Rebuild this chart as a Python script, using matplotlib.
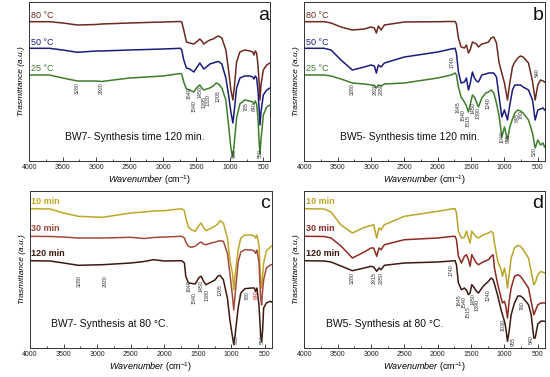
import matplotlib
matplotlib.use("Agg")
import matplotlib.pyplot as plt
from matplotlib.ticker import MultipleLocator

plt.rcParams['font.family'] = ['Liberation Sans', 'DejaVu Sans']
plt.rcParams['mathtext.fontset'] = 'custom'
plt.rcParams['mathtext.rm'] = 'Liberation Sans'
plt.rcParams['mathtext.it'] = 'Liberation Sans:italic'

# ---------------------------
# DATA (transmittance in a.u.)
# ---------------------------
wn_a = [4000, 3700, 3500, 3280, 3000, 2920, 2500, 2000, 1740, 1720,
        1690, 1650, 1600, 1540, 1500, 1450, 1420, 1390, 1350, 1300,
        1250, 1205, 1170, 1120, 1060, 1020, 985, 955, 930, 900,
        850, 780, 700, 660, 640, 620, 600, 580, 560, 550,
        535, 500, 450, 400]
a_80 = [139.3, 139.3, 138, 136, 136.5, 137, 138, 139, 139.5, 139,
        131, 119, 118, 117, 119, 122, 120, 117, 119, 121,
        122, 124, 125, 123, 111, 91, 71, 61, 76, 99,
        109, 111, 110, 109, 106, 110, 108, 96, 76, 61,
        76, 91, 96, 98]
a_50 = [112.7, 112.7, 111, 108.7, 110, 110, 111, 112, 112.7, 111,
        101, 93, 92, 89, 93, 98, 95, 92, 94, 97,
        98, 99, 99.5, 97, 83, 66, 49, 38, 53, 73,
        83, 85, 85, 84, 82, 85, 83, 71, 49, 36,
        49, 66, 71, 73]
a_25 = [86, 86, 83, 80, 80, 79.5, 83, 85, 87.5, 87,
        79, 72, 71, 69, 73, 76, 73, 71, 72, 73,
        75, 78, 77, 73, 61, 36, 13, 4, 21, 43,
        57, 61, 60, 59, 57, 60, 57, 43, 16, 7,
        21, 46, 54, 56]

wn_b = [4000, 3700, 3600, 3450, 3280, 3100, 3000, 2950, 2920, 2890,
        2850, 2800, 2500, 2000, 1800, 1740, 1720, 1690, 1650, 1600,
        1570, 1540, 1515, 1480, 1450, 1420, 1390, 1340, 1280, 1240,
        1200, 1160, 1120, 1080, 1040, 1000, 955, 920, 880, 845,
        800, 760, 720, 640, 580, 540, 500, 460, 420, 400]
b_80 = [139.3, 139.3, 138, 134, 131, 132, 134, 133, 128, 135,
        131, 136, 139, 139.3, 139.5, 139.5, 137, 123, 114, 113,
        116, 108, 111, 119, 118, 117, 114, 117, 118, 119,
        123, 124, 118, 98, 88, 78, 61, 78, 94, 99,
        103, 105, 104, 98, 80, 61, 76, 81, 80, 79]
b_50 = [112.7, 112.7, 111, 101, 91, 94, 96, 95, 88, 96,
        94, 98, 104, 109, 112, 112.7, 108, 89, 78, 79,
        83, 71, 77, 89, 83, 80, 79, 86, 87, 88,
        88, 88, 84, 64, 44, 51, 41, 56, 71, 76,
        76, 76, 74, 71, 61, 41, 51, 52, 53, 51]
b_25 = [86, 86, 85, 82, 78, 77, 76, 75.5, 73, 76,
        75, 77, 78, 83, 86, 88, 86, 74, 64, 59,
        55, 49, 56, 66, 64, 59, 54, 63, 68, 69,
        71, 68, 58, 45, 24, 34, 21, 34, 42, 48,
        51, 50, 48, 41, 28, 13, 21, 16, 18, 14]

wn_c = [4000, 3700, 3500, 3280, 2920, 2500, 2300, 2160, 2000, 1740,
        1700, 1680, 1640, 1600, 1540, 1480, 1450, 1420, 1380, 1300,
        1240, 1205, 1170, 1120, 1060, 1020, 985, 965, 945, 900,
        860, 800, 700, 660, 640, 620, 590, 565, 550, 535,
        520, 480, 420, 400]
c_10 = [139.3, 139, 135, 131.7, 130.7, 135, 136, 137, 137.3, 139.3,
        137.3, 130, 121, 118.3, 116.7, 123, 125, 121, 117.3, 120,
        122, 124, 127.3, 125, 110, 87, 75, 58, 73, 98,
        110, 113, 113, 112, 110, 113, 103, 68, 60, 73,
        85, 97, 101, 102]
c_30 = [111.7, 111.5, 111, 110, 110, 110.7, 109.5, 110.5, 111, 111.7,
        110, 106, 101.7, 100.7, 101.7, 105, 106, 104, 103.3, 105,
        106, 106.7, 107.3, 106.7, 95, 73, 52, 38, 53, 86,
        96, 98.3, 98, 97, 94.7, 98, 86, 50, 43, 58,
        68, 80, 83, 83.3]
c_120 = [87.3, 87, 85, 82.7, 83.3, 85, 86.5, 88.3, 87, 87.3,
         85, 71.7, 65, 64.7, 64, 70.7, 71.7, 67.3, 63.3, 66,
         68.3, 71.7, 72.7, 68.3, 50, 26.7, 11.7, 3.3, 13, 40,
         55, 59.3, 60, 60, 56.7, 60, 43.3, 13, 6.7, 18,
         40, 45, 46.7, 46]

wn_d = [4000, 3700, 3600, 3450, 3280, 3100, 3000, 2960, 2915, 2880,
        2850, 2800, 2500, 2000, 1800, 1740, 1720, 1690, 1645, 1600,
        1570, 1540, 1515, 1490, 1450, 1420, 1390, 1320, 1240, 1200,
        1170, 1150, 1100, 1050, 1030, 1000, 980, 955, 930, 900,
        850, 800, 760, 720, 640, 600, 560, 540, 500, 450, 400]
d_10 = [139.3, 139, 136, 123, 115, 120.7, 122.5, 123.3, 110, 120,
        118.3, 123.3, 131.7, 136.7, 139, 139.3, 135, 116.7, 110, 110.7,
        117, 110, 105, 116.7, 113.3, 111, 110, 113, 115, 116.7,
        115, 105, 86.7, 78.3, 71.7, 80, 73.3, 60, 73.3, 90,
        100, 102.7, 101.7, 98.3, 90, 76.7, 63.3, 65, 73.3, 76.7, 75]
d_30 = [111.7, 111.5, 110, 102, 90, 96, 100, 100, 91.7, 100,
        98.3, 103.3, 108.3, 110, 111.5, 111.7, 108.3, 91.7, 85, 91.7,
        93.3, 88.3, 81.7, 93.3, 88.3, 85, 83.3, 86, 88.3, 91.7,
        93.3, 80, 63.3, 50, 45, 46.7, 42, 30, 46.7, 60,
        71.7, 73.3, 71.7, 68, 60, 46.7, 33.3, 36.7, 43.3, 45, 45]
d_120 = [87.3, 87, 86, 82, 77.3, 80, 81.7, 81, 76.7, 80,
         78.3, 82.7, 85, 86, 87, 87.3, 83.3, 65, 58.3, 60,
         58, 53.3, 55, 63.3, 60, 56.7, 55, 61.7, 66.7, 70,
         68.3, 64, 52, 38, 33.3, 26.7, 20, 6.7, 16.7, 33.3,
         45, 52, 52, 50, 43.3, 33.3, 10, 10, 24, 27, 26.7]

temp_labels = ["80 °C", "50 °C", "25 °C"]
time_labels = ["10 min", "30 min", "120 min"]
titles = ["BW7- Synthesis time 120 min.", "BW5- Synthesis time 120 min.",
          "BW7- Synthesis at 80 °C.", "BW5- Synthesis at 80 °C."]
letters = ["a", "b", "c", "d"]

peaks_a = ["3280", "2920", "1640", "1540", "1450", "1395", "1320", "1205", "785", "640", "955", "550"]
peaks_b = ["3280", "2920", "2850", "1740", "1645", "1540", "1515", "1450", "1390", "1240",
           "1040", "955", "845", "780", "540", "520"]
peaks_c = ["3280", "2920", "1640", "1540", "1450", "1380", "1205", "780", "640", "965", "550"]
peaks_d = ["3280", "2915", "2850", "1740", "1645", "1540", "1515", "1450", "1390", "1240",
           "1030", "955", "780", "540"]

# ---------------------------
# LAYOUT
# ---------------------------
# label anchor (x in cm-1, y in a.u.) for each peak label
pos_a = [(3280, 73), (2920, 73), (1605, 68), (1530, 55), (1450, 69), (1385, 59), (1320, 61),
         (1170, 65), (750, 54), (630, 54), (940, 8), (552, 8)]
pos_b = [(3280, 72), (2940, 72), (2850, 72), (1790, 99), (1690, 54), (1616, 46), (1545, 40),
         (1465, 53), (1390, 48), (1240, 58), (1040, 24), (940, 23), (815, 43), (750, 46),
         (515, 88), (550, 9)]
pos_c = [(3265, 67), (2882, 67), (1625, 62), (1560, 50), (1450, 62), (1358, 53), (1168, 58),
         (762, 52), (632, 53), (935, 8), (547, 8)]
pos_d = [(3280, 70), (2955, 70), (2840, 70), (1800, 78), (1675, 48), (1605, 46), (1545, 36),
         (1475, 49), (1405, 43), (1240, 53), (1015, 23), (875, 7), (730, 42), (600, 8)]

W, H = 550, 377
panel_px = [(29.3, 2, 270, 161), (304.3, 2, 544.5, 161),
            (30, 191, 271.7, 348), (304.3, 191, 544.5, 348)]
label_y = [[0.918, 0.748, 0.583], [0.918, 0.748, 0.583],
           [0.93, 0.758, 0.605], [0.93, 0.758, 0.605]]
title_x = [0.44, 0.44, 0.33, 0.335]

temp_colors = ['#6b2a1f', '#1b1b7e', '#3e7d2b']
time_colors_c = ['#c0a826', '#a24a3c', '#3d1a10']
time_colors_d = ['#b8a52a', '#8e2a22', '#3a1a12']

fig = plt.figure(figsize=(W / 100, H / 100), dpi=100)

panels = [
    (wn_a, [a_80, a_50, a_25], temp_labels, temp_colors, peaks_a, pos_a),
    (wn_b, [b_80, b_50, b_25], temp_labels, temp_colors, peaks_b, pos_b),
    (wn_c, [c_10, c_30, c_120], time_labels, time_colors_c, peaks_c, pos_c),
    (wn_d, [d_10, d_30, d_120], time_labels, time_colors_d, peaks_d, pos_d),
]

for i, (wn, series, names, colors, peaks, pos) in enumerate(panels):
    x0, y0, x1, y1 = panel_px[i]
    ax = fig.add_axes([x0 / W, 1 - y1 / H, (x1 - x0) / W, (y1 - y0) / H])
    for t, name, col in zip(series, names, colors):
        ax.plot(wn, t, color=col, lw=1.1)
    ax.set_xlim(4000, 400)
    ax.set_ylim(0, y1 - y0)
    ax.set_yticks([])
    ax.xaxis.set_major_locator(MultipleLocator(500))
    ax.xaxis.set_minor_locator(MultipleLocator(250))
    ax.tick_params(axis='x', which='major', direction='in', length=3, width=0.6,
                   labelsize=5, pad=2, colors='#222222')
    ax.tick_params(axis='x', which='minor', direction='in', length=1.5, width=0.5)
    for sp in ax.spines.values():
        sp.set_linewidth(0.7)
        sp.set_color('#333333')
    ax.set_xlabel(r"$\mathit{Wavenumber}$ (cm$^{-1}$)", fontsize=6.5, labelpad=2)
    ax.set_ylabel("Trasmittance (a.u.)", fontsize=6, style='italic', labelpad=3)

    for name, col, ly in zip(names, colors, label_y[i]):
        ax.text(0.005, ly, name, transform=ax.transAxes, color=col, fontsize=6.5,
                ha='left', va='center', fontweight='bold' if i >= 2 else 'normal')
    ax.text(0.973, 0.918, letters[i], transform=ax.transAxes, fontsize=14,
            ha='center', va='center', color='#111111')
    ax.text(title_x[i], 0.15, titles[i], transform=ax.transAxes, fontsize=7.5,
            ha='center', va='center', color='#111111')
    for txt, (px, py) in zip(peaks, pos):
        col = '#cc1030' if (i == 2 and txt == "640") else '#333333'
        ax.text(px, py, txt, rotation=90, fontsize=3.8, ha='center', va='center', color=col)

fig.savefig("out.png", dpi=100)
